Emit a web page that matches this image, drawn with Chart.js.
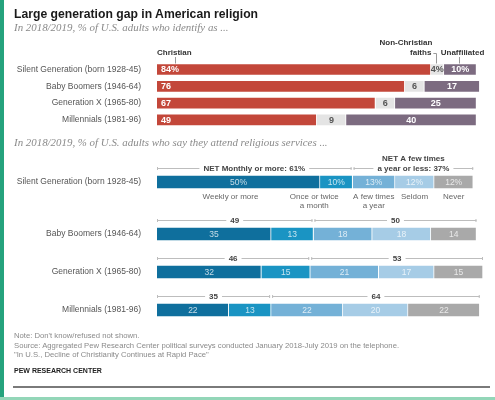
<!DOCTYPE html>
<html>
<head>
<meta charset="utf-8">
<script src="https://cdn.jsdelivr.net/npm/chart.js@4.4.1/dist/chart.umd.min.js"></script>
<style>
  body { margin: 0; background: #fff; font-family: "Liberation Sans", Arial, sans-serif; }
  #page { position: relative; width: 495px; height: 400px; overflow: hidden; background: #fff; }
  #chart { position: absolute; left: 0; top: 0; }
  .edge-left { position: absolute; left: 0; top: 0; width: 4px; height: 400px; background: #25a37d; }
  .edge-bottom { position: absolute; left: 0; top: 397px; width: 495px; height: 3px; background: #93d6b8; }
  .title { position: absolute; left: 14px; top: 8px; font-size: 12.2px; line-height: 12px; font-weight: bold; color: #1a1a1a; white-space: nowrap; }
  .sub { position: absolute; left: 14px; font-family: "Liberation Serif", "Times New Roman", serif; font-style: italic; font-size: 10.9px; line-height: 11px; color: #8a8a8a; white-space: nowrap; }
  .notes { position: absolute; left: 14px; top: 331px; font-size: 7.7px; line-height: 9.7px; color: #8a8a8a; white-space: nowrap; }
  .brand { position: absolute; left: 14px; top: 367px; font-size: 7px; font-weight: bold; color: #222; white-space: nowrap; }
  .rule { position: absolute; left: 13px; top: 386px; width: 477px; height: 1.5px; background: #7a7a7a; }
</style>
</head>
<body>
<div id="page">
  <canvas id="chart" width="495" height="400"></canvas>
  <div class="edge-left"></div>
  <div class="edge-bottom"></div>
  <div class="title">Large generation gap in American religion</div>
  <div class="sub" style="top:22px">In 2018/2019, % of U.S. adults who identify as ...</div>
  <div class="sub" style="top:137px">In 2018/2019, % of U.S. adults who say they attend religious services ...</div>
  <div class="notes">Note: Don't know/refused not shown.<br>Source: Aggregated Pew Research Center political surveys conducted January 2018-July 2019 on the telephone.<br>"In U.S., Decline of Christianity Continues at Rapid Pace"</div>
  <div class="brand">PEW RESEARCH CENTER</div>
  <div class="rule"></div>
</div>
<script>
// generations (rows)
const GENERATIONS = [
  "Silent Generation (born 1928-45)",
  "Baby Boomers (1946-64)",
  "Generation X (1965-80)",
  "Millennials (1981-96)",
];

// religious identity, %
const CHRISTIAN = [84, 76, 67, 49];
const NON_CHRISTIAN = [4, 6, 6, 9];
const UNAFFILIATED = [10, 17, 25, 40];

// attendance at religious services, %
const ATTEND_CATEGORIES = ["Weekly or more", "Once or twice\na month", "A few times\na year", "Seldom", "Never"];
const WEEKLY = [50, 35, 32, 22];
const MONTHLY = [10, 13, 15, 13];
const FEW_TIMES = [13, 18, 21, 22];
const SELDOM = [12, 18, 17, 20];
const NEVER = [12, 14, 15, 22];
const NET_MONTHLY = [61, 49, 46, 35];
const NET_YEARLY = [37, 50, 53, 64];

// layout: row centres on the page (the y axis runs 0..400 down the page)
const TOP_ROW_Y = [69.5, 86.3, 103.1, 119.9];
const BOTTOM_ROW_Y = [182, 234, 272, 310];
const CATEGORY_SHIFT = [-8, -22, 0, 0, 0];

function rows(values, ys) {
  return values.map((v, i) => ({ x: v, y: ys[i] }));
}

function segment(label, values, ys, color, group, thickness) {
  return {
    label: label,
    data: rows(values, ys),
    backgroundColor: color,
    borderColor: "#ffffff",
    borderWidth: 1,
    borderSkipped: "start",
    barThickness: thickness,
    stack: group,
  };
}

const labelsPlugin = {
  id: "pewLabels",
  afterDatasetsDraw(chart) {
    const ctx = chart.ctx;
    const bar = (d, i) => chart.getDatasetMeta(d).data[i];
    const value = (d, i) => chart.data.datasets[d].data[i].x;
    ctx.save();
    ctx.textBaseline = "middle";

    // values in the identity bars
    for (let d = 0; d < 3; d++) {
      for (let i = 0; i < GENERATIONS.length; i++) {
        const el = bar(d, i);
        const text = value(d, i) + (i === 0 ? "%" : "");
        ctx.font = "bold 9px 'Liberation Sans', Arial, sans-serif";
        ctx.fillStyle = d === 1 ? "#555555" : "#ffffff";
        if (d === 0) {
          ctx.textAlign = "left";
          ctx.fillText(text, el.base + 4, el.y + 0.5);
        } else {
          ctx.textAlign = "center";
          ctx.fillText(text, (el.x + el.base) / 2, el.y + 0.5);
        }
      }
    }

    // values in the attendance bars
    ctx.font = "8.5px 'Liberation Sans', Arial, sans-serif";
    ctx.fillStyle = "rgba(255,255,255,0.75)";
    ctx.textAlign = "center";
    for (let d = 3; d < 8; d++) {
      for (let i = 0; i < GENERATIONS.length; i++) {
        const el = bar(d, i);
        const text = value(d, i) + (i === 0 ? "%" : "");
        ctx.fillText(text, (el.x + el.base) / 2, el.y + 0.5);
      }
    }

    // identity headers
    ctx.font = "bold 8px 'Liberation Sans', Arial, sans-serif";
    ctx.fillStyle = "#333333";
    ctx.strokeStyle = "#9a9a9a";
    ctx.lineWidth = 1;
    const c0 = bar(0, 0);
    const top0 = c0.y - c0.height / 2;
    ctx.textAlign = "left";
    ctx.fillText("Christian", c0.base, 53);
    ctx.beginPath();
    ctx.moveTo(c0.base + 18.5, 57);
    ctx.lineTo(c0.base + 18.5, top0);
    ctx.stroke();

    const n0 = bar(1, 0);
    const nx = (n0.x + n0.base) / 2;
    ctx.textAlign = "right";
    ctx.fillText("Non-Christian", nx - 5, 43);
    ctx.fillText("faiths", nx - 6, 53);
    ctx.beginPath();
    ctx.moveTo(nx - 4, 53.5);
    ctx.lineTo(Math.round(nx) - 0.5, 53.5);
    ctx.lineTo(Math.round(nx) - 0.5, top0);
    ctx.stroke();

    const u0 = bar(2, 0);
    const ux = Math.round((u0.x + u0.base) / 2) - 0.5;
    ctx.textAlign = "center";
    ctx.fillText("Unaffiliated", ux + 3, 53);
    ctx.beginPath();
    ctx.moveTo(ux, 57);
    ctx.lineTo(ux, top0);
    ctx.stroke();

    // NET brackets above the attendance bars
    ctx.strokeStyle = "#bdbdbd";
    ctx.fillStyle = "#444444";
    for (let i = 0; i < GENERATIONS.length; i++) {
      const wk = bar(3, i), mo = bar(4, i), fe = bar(5, i), nv = bar(7, i);
      const yl = Math.round(wk.y - 14) + 0.5;
      const left = i === 0 ? ["NET Monthly or more: " + NET_MONTHLY[i] + "%"] : [String(NET_MONTHLY[i])];
      const right = i === 0 ? ["NET A few times", "a year or less: " + NET_YEARLY[i] + "%"] : [String(NET_YEARLY[i])];
      bracket(ctx, wk.base, mo.x - 1, yl, left);
      bracket(ctx, fe.base + 1, nv.x, yl, right);
    }

    // category labels under the first attendance row
    ctx.font = "8px 'Liberation Sans', Arial, sans-serif";
    ctx.fillStyle = "#666666";
    ctx.textAlign = "center";
    for (let d = 3; d < 8; d++) {
      const el = bar(d, 0);
      const cx = (el.x + el.base) / 2 + CATEGORY_SHIFT[d - 3];
      ATTEND_CATEGORIES[d - 3].split("\n").forEach((line, k) => {
        ctx.fillText(line, cx, el.y + 15 + k * 9);
      });
    }
    ctx.restore();
  },
};

function bracket(ctx, x0, x1, y, lines) {
  const cx = (x0 + x1) / 2;
  ctx.font = "bold 8px 'Liberation Sans', Arial, sans-serif";
  ctx.textAlign = "center";
  const last = lines[lines.length - 1];
  const w = ctx.measureText(last).width;
  ctx.beginPath();
  ctx.moveTo(x0, y);
  ctx.lineTo(cx - w / 2 - 4, y);
  ctx.moveTo(cx + w / 2 + 4, y);
  ctx.lineTo(x1, y);
  ctx.moveTo(x0 + 0.5, y - 1.5);
  ctx.lineTo(x0 + 0.5, y + 1.5);
  ctx.moveTo(x1 - 0.5, y - 1.5);
  ctx.lineTo(x1 - 0.5, y + 1.5);
  ctx.stroke();
  lines.forEach((line, k) => {
    ctx.fillText(line, cx, y - (lines.length - 1 - k) * 9.5);
  });
}

new Chart(document.getElementById("chart"), {
  type: "bar",
  data: {
    datasets: [
      segment("Christian", CHRISTIAN, TOP_ROW_Y, "#c3473a", "identity", 12),
      segment("Non-Christian faiths", NON_CHRISTIAN, TOP_ROW_Y, "#e4e4e4", "identity", 12),
      segment("Unaffiliated", UNAFFILIATED, TOP_ROW_Y, "#7c6b80", "identity", 12),
      segment("Weekly or more", WEEKLY, BOTTOM_ROW_Y, "#0f6f9d", "attend", 14),
      segment("Once or twice a month", MONTHLY, BOTTOM_ROW_Y, "#1a94c3", "attend", 14),
      segment("A few times a year", FEW_TIMES, BOTTOM_ROW_Y, "#74b1d7", "attend", 14),
      segment("Seldom", SELDOM, BOTTOM_ROW_Y, "#a6cce6", "attend", 14),
      segment("Never", NEVER, BOTTOM_ROW_Y, "#a9a9a9", "attend", 14),
    ],
  },
  options: {
    indexAxis: "y",
    responsive: false,
    animation: false,
    grouped: false,
    layout: { autoPadding: false, padding: { left: 0, right: 12, top: 0, bottom: 0 } },
    plugins: { legend: { display: false }, tooltip: { enabled: false } },
    scales: {
      x: { type: "linear", min: 0, max: 100, stacked: true, display: false, offset: false },
      y: {
        type: "linear",
        min: 0,
        max: 400,
        reverse: true,
        stacked: true,
        offset: false,
        grid: { display: false, drawTicks: false },
        border: { display: false },
        afterBuildTicks(scale) {
          scale.ticks = TOP_ROW_Y.concat(BOTTOM_ROW_Y).map((v) => ({ value: v }));
        },
        afterFit(scale) {
          scale.width = 157;
          scale.paddingTop = 0;
          scale.paddingBottom = 0;
        },
        ticks: {
          autoSkip: false,
          padding: 16,
          color: "#555555",
          font: { family: "'Liberation Sans', Arial, sans-serif", size: 8.5 },
          callback: (val, index) => GENERATIONS[index % GENERATIONS.length],
        },
      },
    },
  },
  plugins: [labelsPlugin],
});
</script>
</body>
</html>
